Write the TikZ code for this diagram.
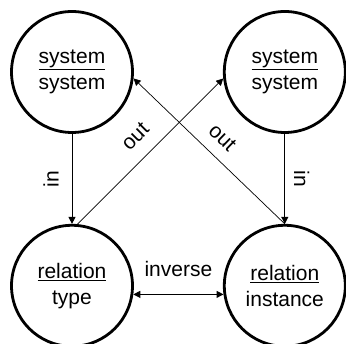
\documentclass[tikz,border=0pt]{standalone}
\usepackage{fontspec}
\setmainfont{Liberation Sans}
\usetikzlibrary{arrows.meta,positioning}
\tikzset{
  ernode/.style={draw, circle, line width=2.8pt, minimum size=121pt, inner sep=0pt, align=center, font=\fontsize{21}{26}\selectfont},
  erarrow/.style={-{Triangle[length=7pt,width=7pt]}, line width=1pt},
  erthin/.style={-{Triangle[length=7pt,width=7pt]}, line width=0.7pt},
  erdouble/.style={{Triangle[length=7pt,width=7pt]}-{Triangle[length=7pt,width=7pt]}, line width=1pt},
  erlabel/.style={font=\fontsize{21}{25}\selectfont, inner sep=1pt}
}

\begin{document}
\begin{tikzpicture}[x=1pt, y=1pt, node distance=89pt and 90pt]
  \useasboundingbox (0,0) rectangle (346,344);
  \node[ernode] (tl) at (72,272) {\underline{system}\\system};
  \node[ernode, right=89pt of tl] (tr) {\underline{system}\\system};
  \node[ernode, below=90pt of tl] (bl) {\underline{relation}\\type};
  \node[ernode, below=90pt of tr] (br) {\underline{relation}\\instance};
  \draw[erarrow] (tl.south) -- node[erlabel, xshift=-21pt, rotate=90] {in} (bl.north);
  \draw[erarrow] (tr.south) -- node[erlabel, xshift=17pt, rotate=-90] {in} (br.north);
  \draw[erthin] (bl.85) -- node[erlabel, midway, sloped, above=13pt] {out} (tr.186);
  \draw[erthin] (br.north) -- node[erlabel, midway, sloped, above=11pt] {out} (tl.-6);
  \draw[erdouble] (bl.-8) -- node[erlabel, above=16pt] {inverse} (br.188);
\end{tikzpicture}
\end{document}
